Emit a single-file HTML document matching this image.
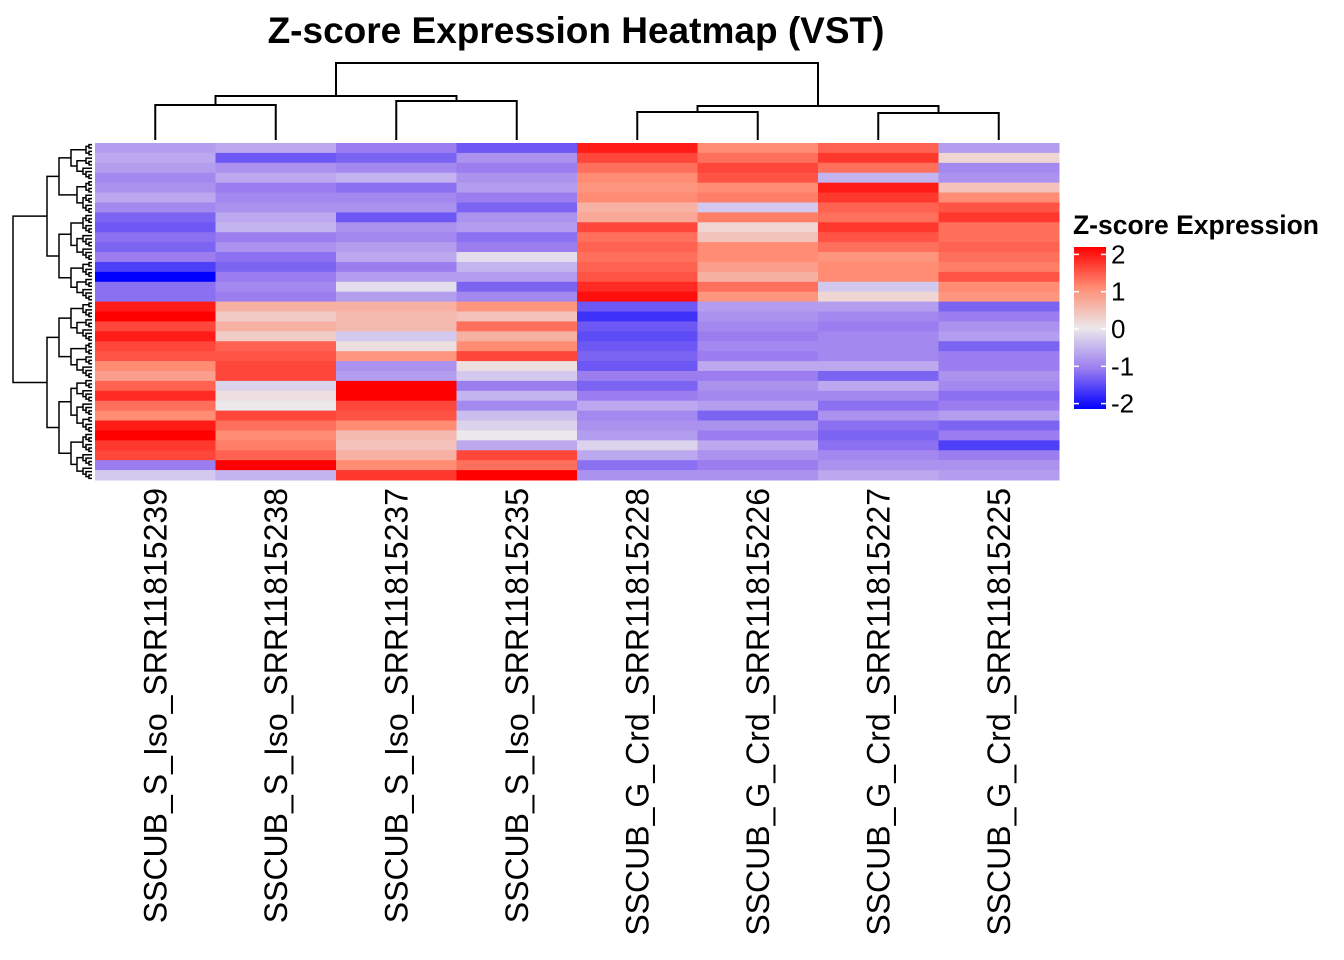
<!DOCTYPE html>
<html><head><meta charset="utf-8"><style>
body{margin:0;background:#fff;}
svg{display:block;font-family:"Liberation Sans",Arial,sans-serif;}
</style></head><body>
<svg id="chart" width="1344" height="960" viewBox="0 0 1344 960">
<text x="576" y="43" text-anchor="middle" font-size="37" font-weight="bold">Z-score Expression Heatmap (VST)</text>
<g id="cells"></g>
<g id="coldendro" stroke="#000" stroke-width="2" fill="none"></g>
<g id="rowdendro" stroke="#000" stroke-width="1.5" fill="none"></g>
<g id="collabels"></g>
<defs><linearGradient id="lg" x1="0" y1="1" x2="0" y2="0">
<stop offset="0" stop-color="rgb(0,0,255)"/><stop offset="0.25" stop-color="rgb(155,125,240)"/><stop offset="0.5" stop-color="rgb(235,232,235)"/><stop offset="0.75" stop-color="rgb(255,140,115)"/><stop offset="1" stop-color="rgb(255,0,0)"/></linearGradient></defs>
<g>
<text x="1073" y="234" font-size="26.5" font-weight="bold">Z-score Expression</text>
<rect x="1074" y="247" width="32" height="162" fill="url(#lg)"/>
<g id="legticks"></g>
</g>
</svg>
<script>
const samples=["SSCUB_S_Iso_SRR11815239","SSCUB_S_Iso_SRR11815238","SSCUB_S_Iso_SRR11815237","SSCUB_S_Iso_SRR11815235","SSCUB_G_Crd_SRR11815228","SSCUB_G_Crd_SRR11815226","SSCUB_G_Crd_SRR11815227","SSCUB_G_Crd_SRR11815225"];
const col1=[-0.7,-0.6,-0.7,-0.9,-0.8,-0.6,-0.9,-1.2,-1.3,-1.1,-1.2,-1.0,-1.5,-2.0,-1.1,-1.1,1.8,2.0,1.5,1.8,1.5,1.4,1.0,0.8,1.3,1.7,1.2,1.0,1.8,2.0,1.6,1.5,-1.0,-0.3];
const col2=[-0.6,-1.3,-0.8,-0.6,-1.0,-0.9,-0.8,-0.6,-0.5,-1.0,-0.8,-1.1,-1.2,-1.0,-0.9,-1.0,0.6,0.3,0.6,0.3,1.3,1.4,1.5,1.5,-0.2,0.1,0.0,1.5,1.2,1.0,1.1,1.3,2.0,-0.5];
const col3=[-1.0,-1.2,-0.9,-0.5,-1.1,-0.9,-0.8,-1.3,-0.8,-0.9,-0.7,-0.6,-1.0,-0.7,-0.1,-0.7,0.6,0.5,0.5,-0.3,0.1,0.9,-0.8,-0.7,2.0,2.0,1.5,1.4,1.0,0.5,0.4,0.6,1.0,1.6];
const col4=[-1.3,-0.8,-1.0,-0.8,-0.7,-1.0,-1.2,-0.8,-0.7,-1.1,-1.0,-0.1,-0.5,-0.7,-1.2,-0.9,0.9,0.4,1.2,0.6,1.0,1.5,0.1,-0.3,-1.0,-0.5,-0.9,-0.4,-0.2,0.0,-0.6,1.5,1.2,2.0];
const col5=[1.8,1.5,1.2,1.0,0.9,1.0,0.6,0.7,1.5,1.2,1.3,1.2,1.3,1.4,1.7,1.9,-1.3,-1.6,-1.3,-1.4,-1.3,-1.2,-1.3,-1.0,-1.2,-1.0,-0.6,-0.9,-0.8,-0.7,-0.2,-0.6,-1.1,-0.8];
const col6=[1.0,1.2,1.5,1.4,1.0,1.1,-0.3,1.1,0.2,0.4,1.0,1.0,0.8,0.6,1.2,0.9,-0.7,-0.8,-0.9,-1.0,-0.9,-1.0,-0.6,-1.0,-0.8,-0.9,-0.7,-1.2,-0.8,-1.0,-0.6,-0.8,-1.0,-0.8];
const col7=[1.3,1.6,1.2,-0.5,1.8,1.6,1.3,1.2,1.6,1.4,1.2,0.9,1.0,1.0,-0.3,0.2,-0.7,-0.9,-1.0,-0.9,-0.9,-0.9,-0.6,-1.2,-0.6,-0.9,-1.1,-0.8,-1.1,-1.2,-1.1,-0.9,-0.8,-0.6];
const col8=[-0.7,0.2,-0.9,-0.8,0.4,1.0,1.4,1.6,1.2,1.2,1.3,1.2,1.1,1.4,1.0,0.9,-1.2,-1.0,-0.8,-0.7,-1.2,-1.0,-1.0,-0.8,-0.9,-1.1,-1.0,-0.7,-1.2,-1.0,-1.5,-1.0,-0.8,-0.7];
const legendTicks=[2,1,0,-1,-2];
const columns=[col1,col2,col3,col4,col5,col6,col7,col8];
const NS="http://www.w3.org/2000/svg";
const X0=95,X1=1059,Y0=143,Y1=480;
const nRows=col1.length,cw=(X1-X0)/samples.length,rh=(Y1-Y0)/nRows;
const xPos=i=>X0+i*cw, yPos=r=>Y0+r*rh;
const stops=[[-2,[0,0,255]],[-1,[155,125,240]],[0,[235,232,235]],[1,[255,140,115]],[2,[255,0,0]]];
function color(v){v=Math.max(-2,Math.min(2,v));for(let i=0;i<4;i++){const[a,ca]=stops[i],[b,cb]=stops[i+1];if(v<=b){const t=(v-a)/(b-a);return`rgb(${ca.map((c,k)=>Math.round(c+(cb[k]-c)*t)).join(',')})`;}}}
function mk(tag,attrs,parent){const e=document.createElementNS(NS,tag);for(const k in attrs)e.setAttribute(k,attrs[k]);parent.appendChild(e);return e;}
const cells=document.getElementById('cells');
columns.forEach((col,ci)=>{col.forEach((v,ri)=>{
 const r=mk('rect',{x:xPos(ci),y:yPos(ri),width:cw+0.5,height:rh+0.5,fill:color(v)},cells);
 
 
});});
const cl=document.getElementById('collabels');
samples.forEach((s,i)=>{const cx=xPos(i)+cw/2;
 const t=mk('text',{transform:`translate(${cx+11},488) rotate(-90)`,'text-anchor':'end','font-size':'32'},cl);
 t.textContent=s;
 
 
});
const cd=document.getElementById('coldendro');
const cxs=samples.map((s,i)=>xPos(i)+cw/2);
function link(x1,y1,x2,y2,yj){mk('path',{d:`M${x1},${y1}V${yj}H${x2}V${y2}`},cd);}
link(cxs[0],140,cxs[1],140,105);link(cxs[2],140,cxs[3],140,101);
link((cxs[0]+cxs[1])/2,105,(cxs[2]+cxs[3])/2,101,96);
link(cxs[4],140,cxs[5],140,112);link(cxs[6],140,cxs[7],140,113);
link((cxs[4]+cxs[5])/2,112,(cxs[6]+cxs[7])/2,113,106);
link(((cxs[0]+cxs[1])/2+(cxs[2]+cxs[3])/2)/2,96,((cxs[4]+cxs[5])/2+(cxs[6]+cxs[7])/2)/2,106,63);
const rd=document.getElementById('rowdendro');
const leafN=100,lh=(Y1-Y0)/leafN;
function tree(a,b,depth){ if(b-a===1)return{y:Y0+(a+0.5)*lh,x:92};
 const m=a+Math.max(1,Math.floor((b-a)*(depth%2?0.45:0.55)));
 const l=tree(a,m,depth+1),r=tree(m,b,depth+1);
 const x=Math.min(l.x,r.x)-Math.max(2,(b-a)>20?12:(b-a)>6?6:3);
 mk('path',{d:`M${l.x},${l.y}H${x}V${r.y}H${r.x}`},rd);
 return{y:(l.y+r.y)/2,x:x};}
(function(){const top=47;const l=tree(0,top,1),r=tree(top,leafN,1);
 mk('path',{d:`M${l.x},${l.y}H13V${r.y}H${r.x}`},rd);})();
const lt=document.getElementById('legticks');
const ly=v=>329-v*37.3;
legendTicks.forEach(v=>{
 mk('line',{x1:1074,x2:1079,y1:ly(v),y2:ly(v),stroke:'#fff','stroke-width':1.5},lt);
 mk('line',{x1:1101,x2:1106,y1:ly(v),y2:ly(v),stroke:'#fff','stroke-width':1.5},lt);
 const t=mk('text',{x:1111,y:ly(v)+9,'font-size':'26'},lt);
 t.textContent=String(v);
 
 
});
</script>
</body></html>
